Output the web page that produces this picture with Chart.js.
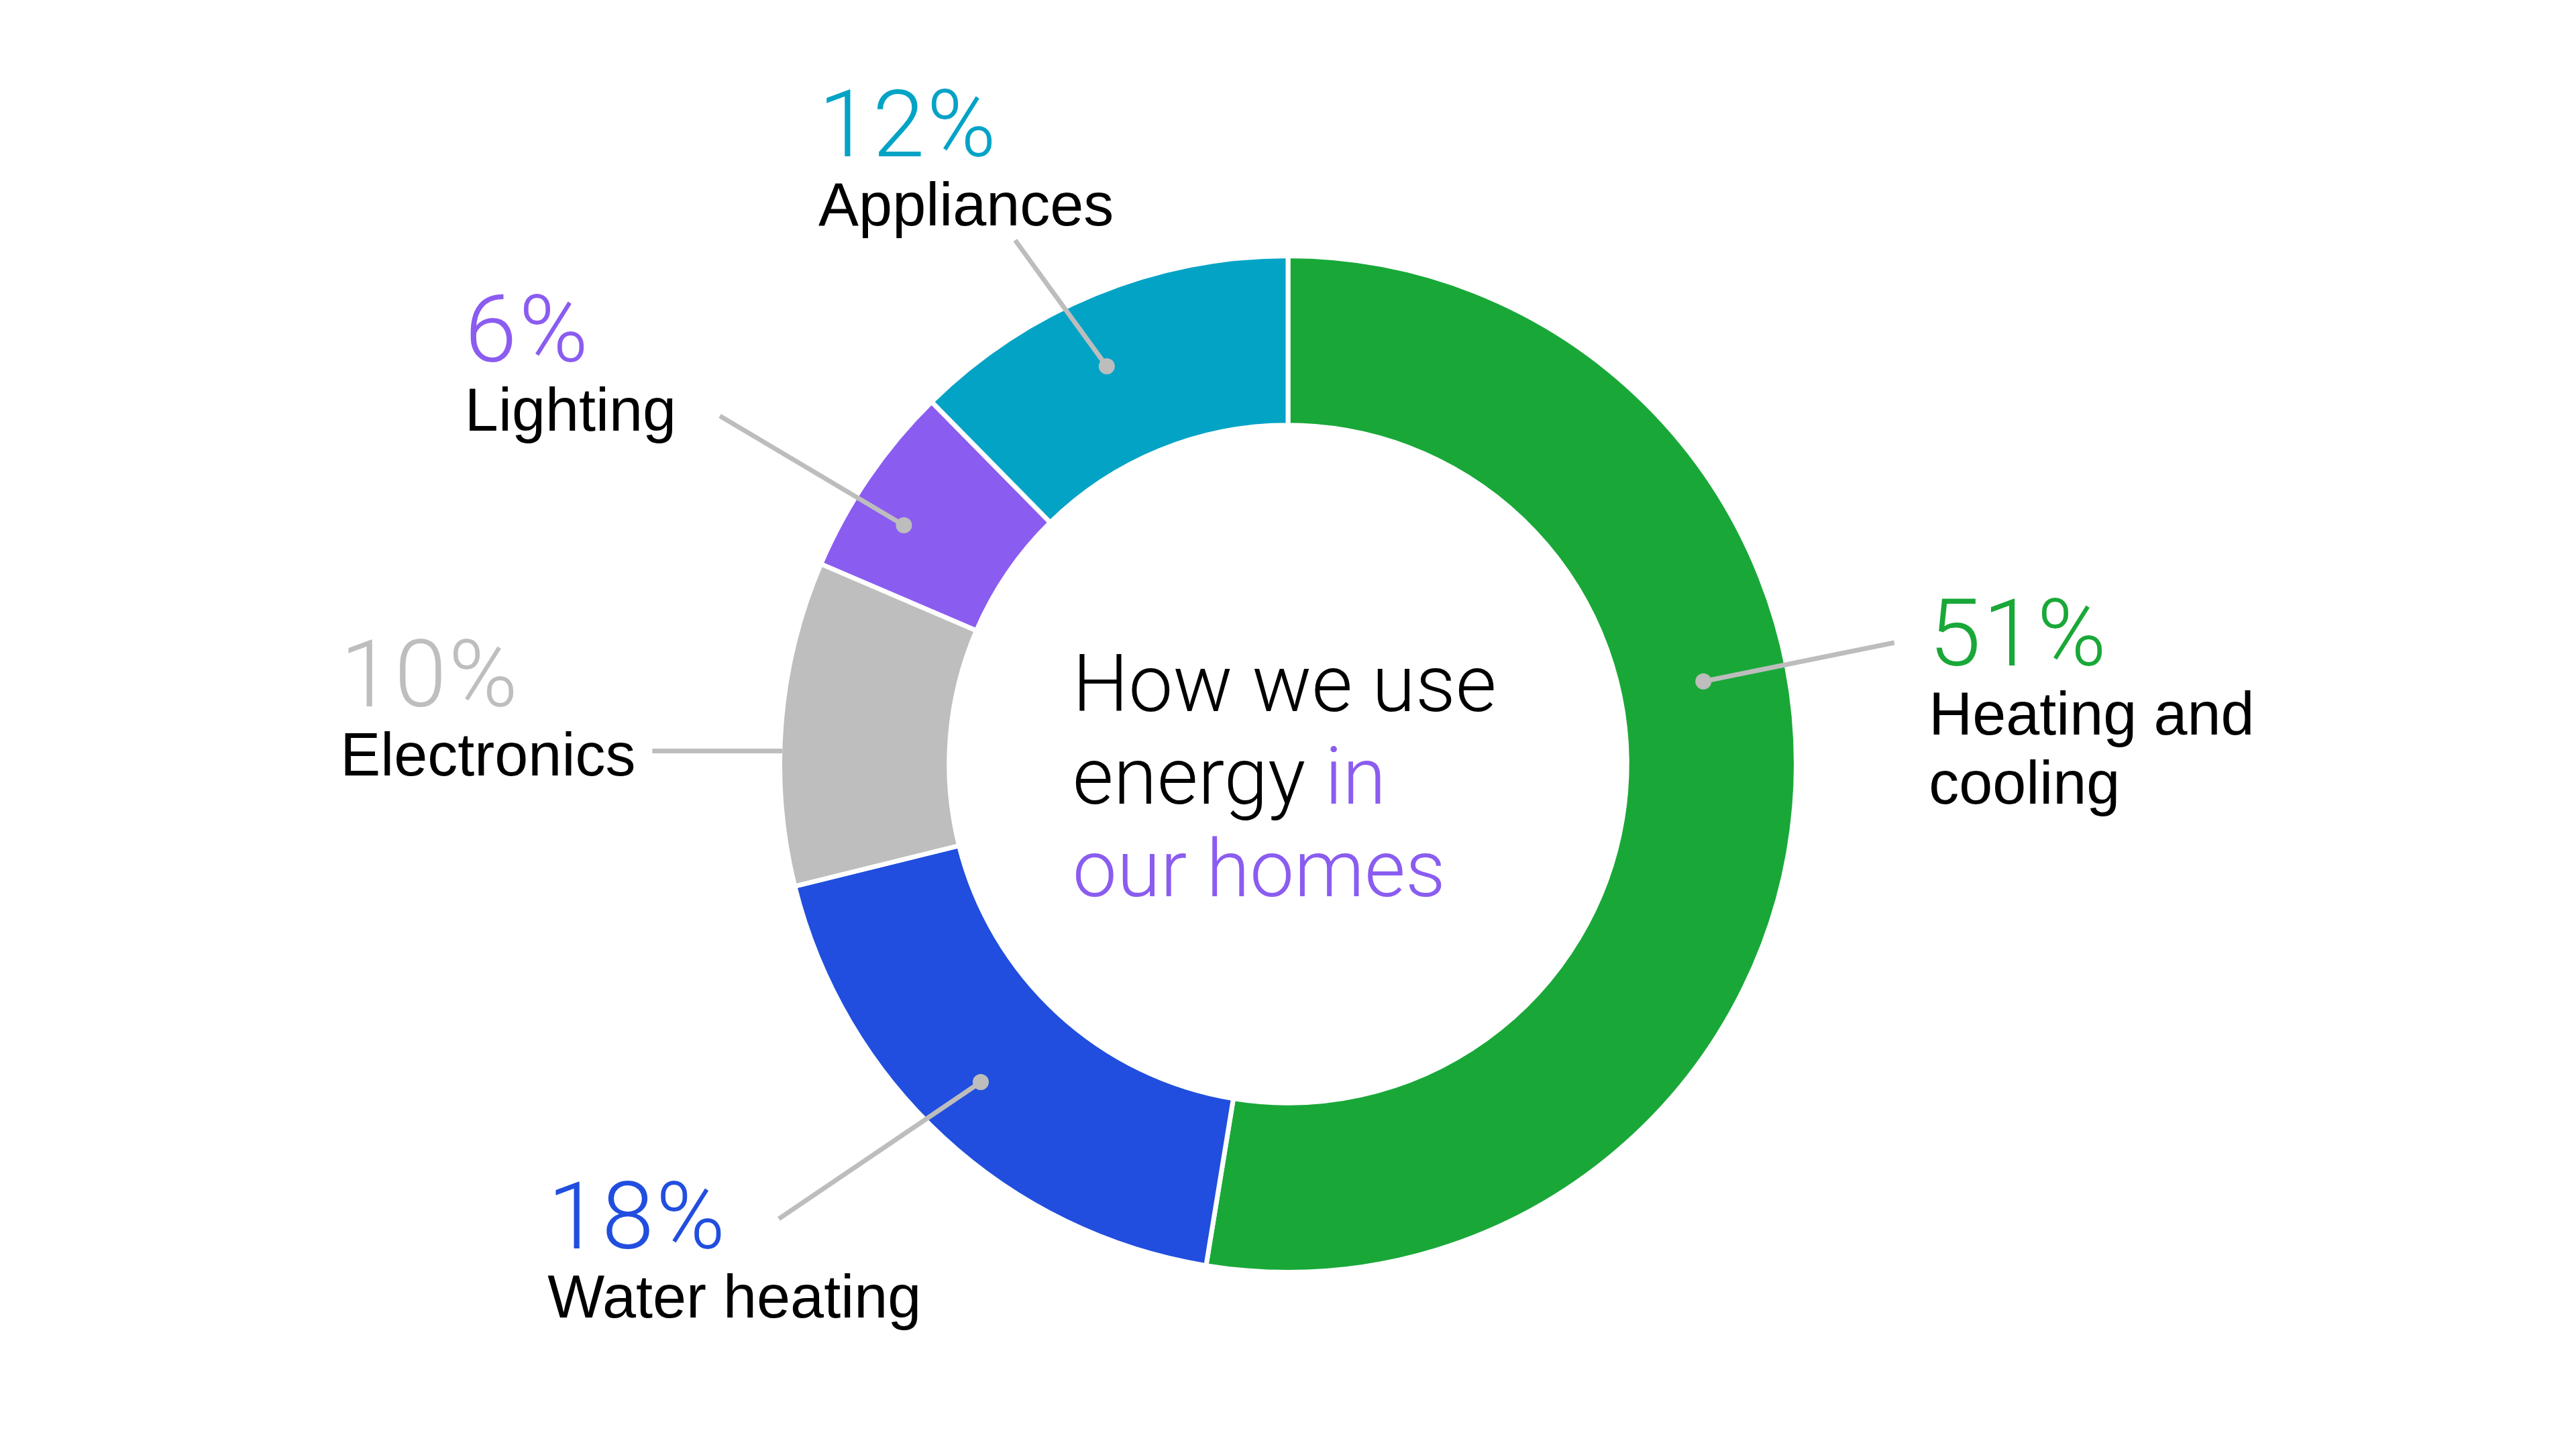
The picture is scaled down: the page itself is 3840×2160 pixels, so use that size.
<!DOCTYPE html>
<html>
<head>
<meta charset="utf-8">
<script src="https://cdn.jsdelivr.net/npm/chart.js@4.4.1/dist/chart.umd.min.js"></script>
<style>
html,body{margin:0;padding:0;background:#ffffff;}
#wrap{width:3840px;height:2160px;position:relative;}
</style>
</head>
<body>
<div id="wrap"><canvas id="chart"></canvas></div>
<script>
// ---- data ----
const categories = ['Heating and cooling', 'Water heating', 'Electronics', 'Lighting', 'Appliances'];
const labelLines = [['Heating and', 'cooling'], ['Water heating'], ['Electronics'], ['Lighting'], ['Appliances']];
const shares = [51, 18, 10, 6, 12];
const shareLabels = ['51%', '18%', '10%', '6%', '12%'];
const sliceColors = ['#19a838', '#214ede', '#bebebe', '#8b5cf0', '#03a3c6'];
const centerTitle = [
  [['How we use', '#000000']],
  [['energy ', '#000000'], ['in', '#8b5cf0']],
  [['our homes', '#8b5cf0']]
];

// ---- layout (relative to doughnut centre, in units of outer radius) ----
const calloutLayout = [
  {tx: 1.261, ty: -0.194, lx: 1.193, ly: -0.239, af: 0.416, rf: 0.50, dot: true},
  {tx: -1.457, ty: 0.953, lx: -1.002, ly: 0.895, af: 0.52, rf: 0.61, dot: true},
  {tx: -1.865, ty: -0.114, lx: -1.251, ly: null, af: 0.415, rf: 1.0, dot: false},
  {tx: -1.620, ty: -0.792, lx: -1.118, ly: -0.685, af: 0.39, rf: 0.67, dot: true},
  {tx: -0.924, ty: -1.196, lx: -0.537, ly: -1.031, af: 0.45, rf: 0.58, dot: true}
];
const centerLayout = {x: -0.424, y0: -0.104, step: 0.182};

const pctFont = '300 140px Roboto, "Liberation Sans", sans-serif';
const labelFont = '400 90px "Liberation Sans", Arial, sans-serif';
const centerFont = '300 118px Roboto, "Liberation Sans", sans-serif';
const lineGapRel = 0.136;

const calloutPlugin = {
  id: 'callouts',
  afterDatasetsDraw(chart) {
    const ctx = chart.ctx;
    const meta = chart.getDatasetMeta(0);
    if (!meta.data.length) return;
    const first = meta.data[0].getProps(['x', 'y', 'outerRadius'], true);
    const cx = first.x, cy = first.y, R = first.outerRadius;
    ctx.save();
    meta.data.forEach((arc, i) => {
      const p = arc.getProps(['startAngle', 'endAngle', 'innerRadius', 'outerRadius'], true);
      const L = calloutLayout[i];
      const ang = p.startAngle + L.af * (p.endAngle - p.startAngle);
      const outer = p.outerRadius - (L.dot ? 0 : 3.5);
      const rad = p.innerRadius + L.rf * (outer - p.innerRadius);
      const ax = cx + Math.cos(ang) * rad;
      const ay = cy + Math.sin(ang) * rad;
      const sx = cx + L.lx * R;
      const sy = L.ly === null ? ay : cy + L.ly * R;
      ctx.strokeStyle = '#bdbdbd';
      ctx.lineWidth = 7;
      ctx.lineCap = 'butt';
      ctx.beginPath();
      ctx.moveTo(sx, sy);
      ctx.lineTo(ax, ay);
      ctx.stroke();
      if (L.dot) {
        ctx.fillStyle = '#bdbdbd';
        ctx.beginPath();
        ctx.arc(ax, ay, 12, 0, Math.PI * 2);
        ctx.fill();
      }
      // texts
      const tx = cx + L.tx * R, ty = cy + L.ty * R;
      ctx.textAlign = 'left';
      ctx.textBaseline = 'alphabetic';
      ctx.font = pctFont;
      ctx.letterSpacing = '3px';
      ctx.fillStyle = sliceColors[i];
      ctx.fillText(shareLabels[i], tx, ty);
      ctx.letterSpacing = '0px';
      ctx.font = labelFont;
      ctx.fillStyle = '#000000';
      labelLines[i].forEach((ln, k) => {
        ctx.fillText(ln, tx, ty + (k + 1) * lineGapRel * R);
      });
    });
    // centre title
    ctx.font = centerFont;
    centerTitle.forEach((parts, k) => {
      let x = cx + centerLayout.x * R;
      const y = cy + (centerLayout.y0 + k * centerLayout.step) * R;
      parts.forEach(([txt, col]) => {
        ctx.fillStyle = col;
        ctx.fillText(txt, x, y);
        x += ctx.measureText(txt).width;
      });
    });
    ctx.restore();
  }
};

new Chart(document.getElementById('chart'), {
  type: 'doughnut',
  data: {
    labels: categories,
    datasets: [{
      data: shares,
      backgroundColor: sliceColors,
      borderColor: '#ffffff',
      borderWidth: 7,
      hoverOffset: 0
    }]
  },
  options: {
    responsive: true,
    maintainAspectRatio: false,
    devicePixelRatio: 1,
    animation: false,
    cutout: '66.7%',
    layout: {padding: {top: 378, bottom: 260, left: 0, right: 0}},
    plugins: {legend: {display: false}, tooltip: {enabled: false}, title: {display: false}}
  },
  plugins: [calloutPlugin]
});
</script>
</body>
</html>
